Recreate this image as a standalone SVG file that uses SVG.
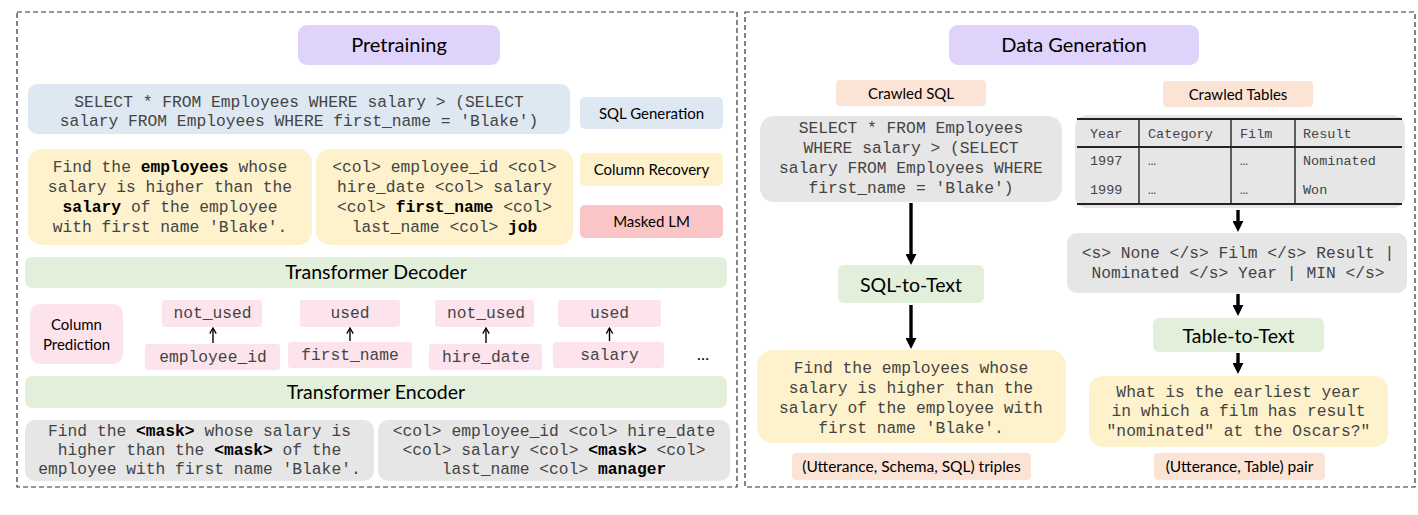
<svg xmlns="http://www.w3.org/2000/svg" width="1418" height="515" viewBox="0 0 1418 515">
<style>
.panel{fill:none;stroke:#333;stroke-width:1.2;stroke-dasharray:5 3}
.sans{font-family:Lato,"Open Sans","Liberation Sans",sans-serif;fill:#000;text-anchor:middle}
.lbl{font-size:15px}
.hdr{font-size:20px}
.mono{font-family:"Liberation Mono","Courier New",monospace;font-size:16.3px;fill:#444;text-anchor:middle}
.tbl{font-family:"Liberation Mono","Courier New",monospace;font-size:13.5px;fill:#444}
.b{font-weight:bold;fill:#000}
.lav{fill:#dfd2fb}
.blue{fill:#dee8f3}
.yel{fill:#fef2cc}
.red{fill:#f9c5c7}
.grn{fill:#e2efda}
.pnk{fill:#fde4ec}
.gry{fill:#e6e6e6}
.pch{fill:#fbe4d6}
.thin{stroke:#000;stroke-width:1.4;fill:none}
.thick{stroke:#000;stroke-width:3.4;fill:none}
.tl{stroke:#222;fill:none}
</style>
<defs>
<marker id="open" viewBox="0 0 10 10" refX="9" refY="5" markerWidth="8" markerHeight="8" markerUnits="userSpaceOnUse" orient="auto">
<path d="M2,1 L9,5 L2,9" fill="none" stroke="#000" stroke-width="1.6"/>
</marker>
<marker id="solid" viewBox="0 0 10 10" refX="1" refY="5" markerWidth="11" markerHeight="11" markerUnits="userSpaceOnUse" orient="auto">
<path d="M0,0 L10,5 L0,10 Z" fill="#000"/>
</marker>
</defs>

<rect class="panel" x="17" y="12" width="720" height="475"/>
<rect class="panel" x="745" y="12" width="670" height="475"/>

<!-- Left panel -->
<g id="pretraining"><rect class="lav" x="298" y="25" width="202" height="40" rx="9"/><text class="sans hdr" x="399" y="52">Pretraining</text></g>

<g id="sql-input"><rect class="blue" x="28" y="84" width="542" height="50" rx="9"/>
<text class="mono" x="299" y="107">SELECT * FROM Employees WHERE salary &gt; (SELECT</text>
<text class="mono" x="299" y="126">salary FROM Employees WHERE first_name = 'Blake')</text></g>

<g id="sql-generation"><rect class="blue" x="580" y="97" width="143" height="32" rx="5"/><text class="sans lbl" x="651.5" y="118.5">SQL Generation</text></g>

<g id="utterance-left"><rect class="yel" x="28" y="149" width="284" height="96" rx="14"/>
<text class="mono" x="170" y="172">Find the <tspan class="b">employees</tspan> whose</text>
<text class="mono" x="170" y="192">salary is higher than the</text>
<text class="mono" x="170" y="212"><tspan class="b">salary</tspan> of the employee</text>
<text class="mono" x="170" y="232">with first name 'Blake'.</text></g>

<g id="schema-left"><rect class="yel" x="316" y="149" width="257" height="96" rx="14"/>
<text class="mono" x="444.5" y="172">&lt;col&gt; employee_id &lt;col&gt;</text>
<text class="mono" x="444.5" y="192">hire_date &lt;col&gt; salary</text>
<text class="mono" x="444.5" y="212">&lt;col&gt; <tspan class="b">first_name</tspan> &lt;col&gt;</text>
<text class="mono" x="444.5" y="232">last_name &lt;col&gt; <tspan class="b">job</tspan></text></g>

<g id="column-recovery"><rect class="yel" x="580" y="153" width="143" height="33" rx="5"/><text class="sans lbl" x="651.5" y="175">Column Recovery</text></g>
<g id="masked-lm"><rect class="red" x="580" y="205" width="143" height="33" rx="5"/><text class="sans lbl" x="651.5" y="227">Masked LM</text></g>

<g id="decoder"><rect class="grn" x="25" y="257" width="702" height="31" rx="7"/><text class="sans" x="376" y="279" font-size="19.5">Transformer Decoder</text></g>

<g id="column-prediction"><rect class="pnk" x="30" y="304" width="93" height="60" rx="10"/>
<text class="sans lbl" x="76.5" y="330">Column</text>
<text class="sans lbl" x="76.5" y="350">Prediction</text></g>

<g id="out1"><rect class="pnk" x="162" y="300" width="100" height="27" rx="3"/><text class="mono" x="212.5" y="318">not_used</text></g>
<g id="in1"><rect class="pnk" x="145" y="344" width="135" height="26" rx="3"/><text class="mono" x="213" y="362">employee_id</text></g>
<g id="out2"><rect class="pnk" x="300" y="300" width="100" height="27" rx="3"/><text class="mono" x="350" y="318">used</text></g>
<g id="in2"><rect class="pnk" x="288" y="342" width="124" height="26" rx="3"/><text class="mono" x="350" y="360">first_name</text></g>
<g id="out3"><rect class="pnk" x="435" y="300" width="99" height="27" rx="3"/><text class="mono" x="486" y="318">not_used</text></g>
<g id="in3"><rect class="pnk" x="429" y="344" width="113" height="26" rx="3"/><text class="mono" x="486" y="362">hire_date</text></g>
<g id="out4"><rect class="pnk" x="558" y="300" width="103" height="27" rx="3"/><text class="mono" x="609.5" y="318">used</text></g>
<g id="in4"><rect class="pnk" x="553" y="342" width="111" height="26" rx="3"/><text class="mono" x="609.5" y="360">salary</text></g>
<text class="sans" x="703" y="360" font-size="16">…</text>

<g id="encoder"><rect class="grn" x="25" y="376" width="702" height="32" rx="7"/><text class="sans" x="376" y="399" font-size="19.5">Transformer Encoder</text></g>

<g id="masked-utterance"><rect class="gry" x="25" y="420" width="349" height="61" rx="10"/>
<text class="mono" x="199.5" y="436">Find the <tspan class="b">&lt;mask&gt;</tspan> whose salary is</text>
<text class="mono" x="199.5" y="455">higher than the <tspan class="b">&lt;mask&gt;</tspan> of the</text>
<text class="mono" x="199.5" y="474">employee with first name 'Blake'.</text></g>

<g id="masked-schema"><rect class="gry" x="378" y="420" width="352" height="61" rx="10"/>
<text class="mono" x="554" y="436">&lt;col&gt; employee_id &lt;col&gt; hire_date</text>
<text class="mono" x="554" y="455">&lt;col&gt; salary &lt;col&gt; <tspan class="b">&lt;mask&gt;</tspan> &lt;col&gt;</text>
<text class="mono" x="554" y="474">last_name &lt;col&gt; <tspan class="b">manager</tspan></text></g>

<!-- Right panel -->
<g id="data-generation"><rect class="lav" x="949" y="25" width="250" height="40" rx="9"/><text class="sans hdr" x="1074" y="52">Data Generation</text></g>
<g id="crawled-sql"><rect class="pch" x="836" y="80" width="150" height="26" rx="4"/><text class="sans lbl" x="911" y="98.5">Crawled SQL</text></g>
<g id="crawled-tables"><rect class="pch" x="1163" y="81" width="150" height="26" rx="4"/><text class="sans lbl" x="1238" y="99.5">Crawled Tables</text></g>

<g id="sql-right"><rect class="gry" x="760" y="116" width="302" height="86" rx="14"/>
<text class="mono" x="911" y="133">SELECT * FROM Employees</text>
<text class="mono" x="911" y="153">WHERE salary &gt; (SELECT</text>
<text class="mono" x="911" y="173">salary FROM Employees WHERE</text>
<text class="mono" x="911" y="193">first_name = 'Blake')</text></g>

<g id="table"><rect class="gry" x="1075" y="115" width="330" height="93" rx="12"/>
<line class="tl" x1="1077" y1="119" x2="1402" y2="119" stroke-width="2"/>
<line class="tl" x1="1077" y1="147" x2="1402" y2="147" stroke-width="2"/>
<line class="tl" x1="1077" y1="204" x2="1402" y2="204" stroke-width="2"/>
<line class="tl" x1="1139" y1="119" x2="1139" y2="204" stroke-width="1.4"/>
<line class="tl" x1="1231" y1="119" x2="1231" y2="204" stroke-width="1.4"/>
<line class="tl" x1="1295" y1="119" x2="1295" y2="204" stroke-width="1.4"/>
<text class="tbl" x="1090" y="138">Year</text>
<text class="tbl" x="1148" y="138">Category</text>
<text class="tbl" x="1240" y="138">Film</text>
<text class="tbl" x="1303" y="138">Result</text>
<text class="tbl" x="1090" y="165">1997</text>
<text class="tbl" x="1148" y="165" font-size="10">…</text>
<text class="tbl" x="1240" y="165" font-size="10">…</text>
<text class="tbl" x="1303" y="165">Nominated</text>
<text class="tbl" x="1090" y="194">1999</text>
<text class="tbl" x="1148" y="194" font-size="10">…</text>
<text class="tbl" x="1240" y="194" font-size="10">…</text>
<text class="tbl" x="1303" y="194">Won</text></g>

<g id="linearized"><rect class="gry" x="1067" y="233" width="340" height="60" rx="10"/>
<text class="mono" x="1238" y="258">&lt;s&gt; None &lt;/s&gt; Film &lt;/s&gt; Result |</text>
<text class="mono" x="1238" y="278">Nominated &lt;/s&gt; Year | MIN &lt;/s&gt;</text></g>

<g id="sql-to-text"><rect class="grn" x="838" y="265" width="146" height="38" rx="6"/><text class="sans" x="911" y="291.5" font-size="19.5">SQL-to-Text</text></g>
<g id="table-to-text"><rect class="grn" x="1153" y="318" width="171" height="34" rx="6"/><text class="sans" x="1238.5" y="342.5" font-size="19.5">Table-to-Text</text></g>

<g id="utterance-right"><rect class="yel" x="757" y="350" width="309" height="93" rx="16"/>
<text class="mono" x="911" y="373">Find the employees whose</text>
<text class="mono" x="911" y="393">salary is higher than the</text>
<text class="mono" x="911" y="413">salary of the employee with</text>
<text class="mono" x="911" y="433">first name 'Blake'.</text></g>

<g id="question"><rect class="yel" x="1089" y="376" width="299" height="71" rx="14"/>
<text class="mono" x="1238.5" y="397">What is the earliest year</text>
<text class="mono" x="1238.5" y="416">in which a film has result</text>
<text class="mono" x="1238.5" y="436">"nominated" at the Oscars?"</text></g>

<g id="triples"><rect class="pch" x="792" y="453" width="239" height="27" rx="4"/><text class="sans" x="911.5" y="472" font-size="15.5">(Utterance, Schema, SQL) triples</text></g>
<g id="pair"><rect class="pch" x="1154" y="453" width="171" height="27" rx="4"/><text class="sans" x="1239.5" y="472" font-size="15.5">(Utterance, Table) pair</text></g>

<g id="connectors">
<line class="thin" x1="213" y1="343" x2="213" y2="328" marker-end="url(#open)"/>
<line class="thin" x1="350" y1="341" x2="350" y2="328" marker-end="url(#open)"/>
<line class="thin" x1="486" y1="343" x2="486" y2="328" marker-end="url(#open)"/>
<line class="thin" x1="609.5" y1="341" x2="609.5" y2="328" marker-end="url(#open)"/>
<line class="thick" x1="911" y1="203" x2="911" y2="255" marker-end="url(#solid)"/>
<line class="thick" x1="911" y1="305" x2="911" y2="339" marker-end="url(#solid)"/>
<line class="thick" x1="1238" y1="210" x2="1238" y2="222" marker-end="url(#solid)"/>
<line class="thick" x1="1238" y1="294" x2="1238" y2="306" marker-end="url(#solid)"/>
<line class="thick" x1="1238" y1="353" x2="1238" y2="364" marker-end="url(#solid)"/>
</g>
</svg>
